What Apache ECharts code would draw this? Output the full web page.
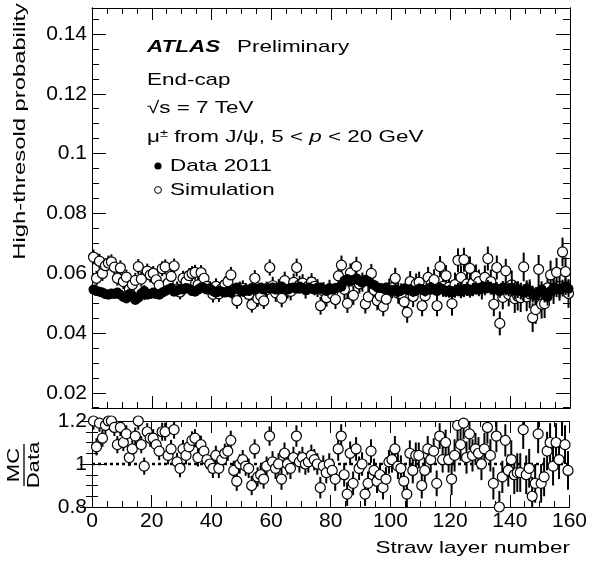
<!DOCTYPE html>
<html><head><meta charset="utf-8">
<script src="https://cdn.jsdelivr.net/npm/echarts@6.0.0/dist/echarts.min.js"></script>
<style>html,body{margin:0;padding:0;background:#fff}#c{width:590px;height:565px}</style>
</head><body><div id="c"></div><script>
// Straw layer bins (centres at layer + 0.5)
const layers = Array.from({length:160}, (_, i) => i + 0.5);
const dataProb = [0.0545,0.0540,0.0538,0.0535,0.0530,0.0528,0.0532,0.0530,0.0535,0.0528,
0.0520,0.0515,0.0530,0.0525,0.0510,0.0518,0.0532,0.0540,0.0528,0.0530,
0.0535,0.0530,0.0528,0.0535,0.0540,0.0545,0.0550,0.0538,0.0542,0.0548,
0.0545,0.0550,0.0548,0.0540,0.0538,0.0545,0.0552,0.0550,0.0545,0.0548,
0.0540,0.0535,0.0542,0.0538,0.0535,0.0540,0.0535,0.0548,0.0552,0.0545,
0.0538,0.0545,0.0540,0.0550,0.0545,0.0548,0.0552,0.0545,0.0550,0.0548,
0.0552,0.0545,0.0550,0.0555,0.0548,0.0545,0.0550,0.0552,0.0548,0.0555,
0.0550,0.0545,0.0552,0.0548,0.0545,0.0550,0.0552,0.0545,0.0540,0.0548,
0.0545,0.0550,0.0552,0.0555,0.0575,0.0580,0.0572,0.0578,0.0582,0.0575,
0.0570,0.0578,0.0572,0.0565,0.0560,0.0552,0.0550,0.0548,0.0552,0.0545,
0.0540,0.0545,0.0538,0.0542,0.0548,0.0545,0.0545,0.0538,0.0542,0.0548,
0.0545,0.0540,0.0548,0.0552,0.0545,0.0540,0.0550,0.0545,0.0538,0.0542,
0.0535,0.0540,0.0545,0.0538,0.0542,0.0548,0.0540,0.0545,0.0550,0.0545,
0.0552,0.0548,0.0555,0.0550,0.0545,0.0548,0.0540,0.0552,0.0548,0.0545,
0.0550,0.0542,0.0545,0.0540,0.0535,0.0548,0.0542,0.0530,0.0525,0.0538,
0.0545,0.0530,0.0520,0.0540,0.0550,0.0548,0.0545,0.0550,0.0555,0.0548];
const simProb = [0.0654,0.0583,0.0640,0.0599,0.0625,0.0634,0.0638,0.0620,0.0583,0.0618,
0.0572,0.0587,0.0546,0.0562,0.0576,0.0622,0.0580,0.0535,0.0607,0.0594,
0.0599,0.0578,0.0560,0.0615,0.0621,0.0567,0.0589,0.0624,0.0547,0.0537,
0.0583,0.0572,0.0592,0.0599,0.0603,0.0561,0.0602,0.0583,0.0556,0.0548,
0.0529,0.0556,0.0531,0.0549,0.0562,0.0572,0.0594,0.0532,0.0508,0.0545,
0.0549,0.0540,0.0529,0.0495,0.0583,0.0515,0.0524,0.0507,0.0545,0.0619,
0.0558,0.0534,0.0550,0.0516,0.0575,0.0545,0.0539,0.0569,0.0619,0.0561,
0.0567,0.0545,0.0558,0.0570,0.0556,0.0550,0.0491,0.0540,0.0518,0.0548,
0.0529,0.0512,0.0591,0.0627,0.0546,0.0499,0.0601,0.0526,0.0623,0.0564,
0.0570,0.0497,0.0521,0.0599,0.0543,0.0508,0.0523,0.0488,0.0513,0.0550,
0.0551,0.0583,0.0533,0.0531,0.0504,0.0469,0.0572,0.0522,0.0564,0.0570,
0.0491,0.0524,0.0586,0.0563,0.0578,0.0491,0.0622,0.0556,0.0592,0.0553,
0.0498,0.0562,0.0643,0.0586,0.0645,0.0564,0.0616,0.0567,0.0589,0.0572,
0.0552,0.0586,0.0649,0.0572,0.0496,0.0619,0.0432,0.0519,0.0608,0.0529,
0.0561,0.0515,0.0523,0.0518,0.0621,0.0521,0.0531,0.0451,0.0478,0.0613,
0.0496,0.0498,0.0551,0.0594,0.0545,0.0603,0.0556,0.0671,0.0605,0.0532];
const ratioMcData = [1.20,1.08,1.19,1.12,1.18,1.20,1.20,1.17,1.09,1.17,
1.10,1.14,1.03,1.07,1.13,1.20,1.09,0.99,1.15,1.12,
1.12,1.09,1.06,1.15,1.15,1.04,1.07,1.16,1.01,0.98,
1.07,1.04,1.08,1.11,1.12,1.03,1.09,1.06,1.02,1.00,
0.98,1.04,0.98,1.02,1.05,1.06,1.11,0.97,0.92,1.00,
1.02,0.99,0.98,0.90,1.07,0.94,0.95,0.93,0.99,1.13,
1.01,0.98,1.00,0.93,1.05,1.00,0.98,1.03,1.13,1.01,
1.03,1.00,1.01,1.04,1.02,1.00,0.89,0.99,0.96,1.00,
0.97,0.93,1.07,1.13,0.95,0.86,1.05,0.91,1.07,0.98,
1.00,0.86,0.91,1.06,0.97,0.92,0.95,0.89,0.93,1.01,
1.02,1.07,0.99,0.98,0.92,0.86,1.05,0.97,1.04,1.04,
0.90,0.97,1.07,1.02,1.06,0.91,1.13,1.02,1.10,1.02,
0.93,1.04,1.18,1.09,1.19,1.03,1.14,1.04,1.07,1.05,
1.00,1.07,1.17,1.04,0.91,1.13,0.80,0.94,1.11,0.97,
1.02,0.95,0.96,0.96,1.16,0.95,0.98,0.85,0.91,1.14,
0.91,0.94,1.06,1.10,0.99,1.10,1.02,1.22,1.09,0.97];
// uncertainties per block of 20 layers
const dataErrBlocks = [0.0010,0.0010,0.0012,0.0014,0.0016,0.0018,0.0022,0.0028];
const simErrBlocks = [0.0025,0.0025,0.0027,0.0030,0.0032,0.0035,0.0040,0.0048];
const ratioErrBlocks = [0.040,0.042,0.045,0.050,0.055,0.060,0.075,0.090];
// tick values
const yMajorTicks = [0.02,0.04,0.06,0.08,0.1,0.12,0.14];
const yMinorTicks = [0.015,0.025,0.03,0.035,0.045,0.05,0.055,0.065,0.07,0.075,0.085,0.09,0.095,0.105,0.11,0.115,0.125,0.13,0.135,0.145];
const yMin = 0.0149, yMax = 0.1487;

const FONT = 'Liberation Sans, Arial, Helvetica, sans-serif';
const chart = echarts.init(document.getElementById('c'), null, {renderer:'canvas'});

function rows(vals, blocks){ return layers.map((x,i)=>[x, vals[i], blocks[Math.floor(i/20)]]); }
function errRender(params, api){
  const x = api.value(0), y = api.value(1), e = api.value(2);
  const p1 = api.coord([x, y - e]), p2 = api.coord([x, y + e]);
  return {type:'line', shape:{x1:p1[0], y1:p1[1], x2:p2[0], y2:p2[1]}, style:{stroke:'#000', lineWidth:2}};
}
const line = {show:true, lineStyle:{color:'#000', width:1}};
function xAx(grid, pos, labels){
  return {type:'value', gridIndex:grid, position:pos, min:0, max:160, interval:20,
    axisLine:line, splitLine:{show:false},
    axisTick:{show:true, inside:true, length:12, lineStyle:{color:'#000'}},
    minorTick:{show:true, splitNumber:4, length:6, lineStyle:{color:'#000'}},
    axisLabel:{show:labels, color:'#000', fontFamily:FONT, fontSize:21, margin:4}};
}
function yTop(pos, major, labels){
  return {type:'value', gridIndex:0, position:pos, min:yMin, max:yMax,
    axisLine:line, splitLine:{show:false},
    axisTick:{show:true, inside:true, length: major?14:7, customValues: major?yMajorTicks:yMinorTicks, lineStyle:{color:'#000'}},
    axisLabel:{show:labels, customValues:yMajorTicks, color:'#000', fontFamily:FONT, fontSize:21, margin:5}};
}
function yRat(pos, labels){
  return {type:'value', gridIndex:1, position:pos, min:0.8, max:1.2, interval:0.2,
    axisLine:line, splitLine:{show:false},
    axisTick:{show:true, inside:true, length:12, lineStyle:{color:'#000'}},
    minorTick:{show:true, splitNumber:4, length:6, lineStyle:{color:'#000'}},
    axisLabel:{show:labels, color:'#000', fontFamily:FONT, fontSize:21, margin:5}};
}

const SX = 1.32;
const t = (text, x, y, extra) => ({type:'text', x:x, y:y, scaleX:SX, style:Object.assign({text:text, fill:'#000', font:'17px '+FONT, textAlign:'left', textVerticalAlign:'middle', align:'left', verticalAlign:'middle'}, extra||{})});

chart.setOption({
  animation:false,
  backgroundColor:'#fff',
  grid:[{left:92, right:20, top:8, height:400}, {left:92, right:20, top:421, height:86}],
  xAxis:[xAx(0,'bottom',false), xAx(0,'top',false), xAx(1,'bottom',true), xAx(1,'top',false)],
  yAxis:[yTop('left',true,true), yTop('left',false,false), yTop('right',true,false), yTop('right',false,false), yRat('left',true), yRat('right',false)],
  series:[
    {type:'custom', xAxisIndex:0, yAxisIndex:0, clip:true, renderItem:errRender, data:rows(simProb, simErrBlocks), z:2},
    {type:'scatter', xAxisIndex:0, yAxisIndex:0, clip:true, symbol:'circle', symbolSize:10, data:layers.map((x,i)=>[x, simProb[i]]),
      itemStyle:{color:'#fff', borderColor:'#000', borderWidth:1.2, opacity:1}, z:3},
    {type:'custom', xAxisIndex:0, yAxisIndex:0, clip:true, renderItem:errRender, data:rows(dataProb, dataErrBlocks), z:4},
    {type:'scatter', xAxisIndex:0, yAxisIndex:0, clip:true, symbol:'circle', symbolSize:10, data:layers.map((x,i)=>[x, dataProb[i]]),
      itemStyle:{color:'#000', opacity:1}, z:5},
    {type:'line', xAxisIndex:2, yAxisIndex:4, data:[[0,1],[160,1]], symbol:'none', lineStyle:{color:'#000', width:2.5, type:[3,3]}, z:2},
    {type:'custom', xAxisIndex:2, yAxisIndex:4, clip:true, renderItem:errRender, data:rows(ratioMcData, ratioErrBlocks), z:3},
    {type:'scatter', xAxisIndex:2, yAxisIndex:4, clip:true, symbol:'circle', symbolSize:10, data:layers.map((x,i)=>[x, ratioMcData[i]]),
      itemStyle:{color:'#fff', borderColor:'#000', borderWidth:1.2, opacity:1}, z:4}
  ],
  graphic:[
    t('ATLAS', 147, 47, {font:'italic bold 17px '+FONT}),
    t('Preliminary', 237, 47),
    t('End-cap', 147, 80),
    t('√s = 7 TeV', 147, 108),
    {type:'text', x:147, y:137, scaleX:SX, style:{text:'{a|μ}{s|±}{a| from J/ψ, 5 < }{i|p}{a| < 20 GeV}', fill:'#000', textAlign:'left', textVerticalAlign:'middle', align:'left', verticalAlign:'middle',
      rich:{a:{fontFamily:FONT, fontSize:17, color:'#000'}, s:{fontFamily:FONT, fontSize:11, color:'#000', verticalAlign:'top'}, i:{fontFamily:FONT, fontSize:17, fontStyle:'italic', color:'#000'}}}},
    {type:'circle', shape:{cx:158, cy:166, r:3.6}, style:{fill:'#000'}},
    t('Data 2011', 170, 166),
    {type:'circle', shape:{cx:158, cy:190, r:3.4}, style:{fill:'#fff', stroke:'#000', lineWidth:1}},
    t('Simulation', 170, 190),
    {type:'text', x:20, y:3, rotation:Math.PI/2, scaleX:1.4, style:{text:'High-thresold probability', fill:'#000', font:'17px '+FONT, textAlign:'right', textVerticalAlign:'middle', align:'right', verticalAlign:'middle'}},
    {type:'group', x:24, y:465, rotation:Math.PI/2, children:[
      {type:'text', x:0, y:-1, scaleX:1.3, style:{text:'MC', fill:'#000', font:'17px '+FONT, textAlign:'center', textVerticalAlign:'bottom', align:'center', verticalAlign:'bottom'}},
      {type:'line', shape:{x1:-21, y1:0, x2:21, y2:0}, style:{stroke:'#000', lineWidth:1.3}},
      {type:'text', x:0, y:2, scaleX:1.3, style:{text:'Data', fill:'#000', font:'17px '+FONT, textAlign:'center', textVerticalAlign:'top', align:'center', verticalAlign:'top'}}
    ]},
    t('Straw layer number', 570, 548, {textAlign:'right', align:'right'})
  ]
});
</script></body></html>
